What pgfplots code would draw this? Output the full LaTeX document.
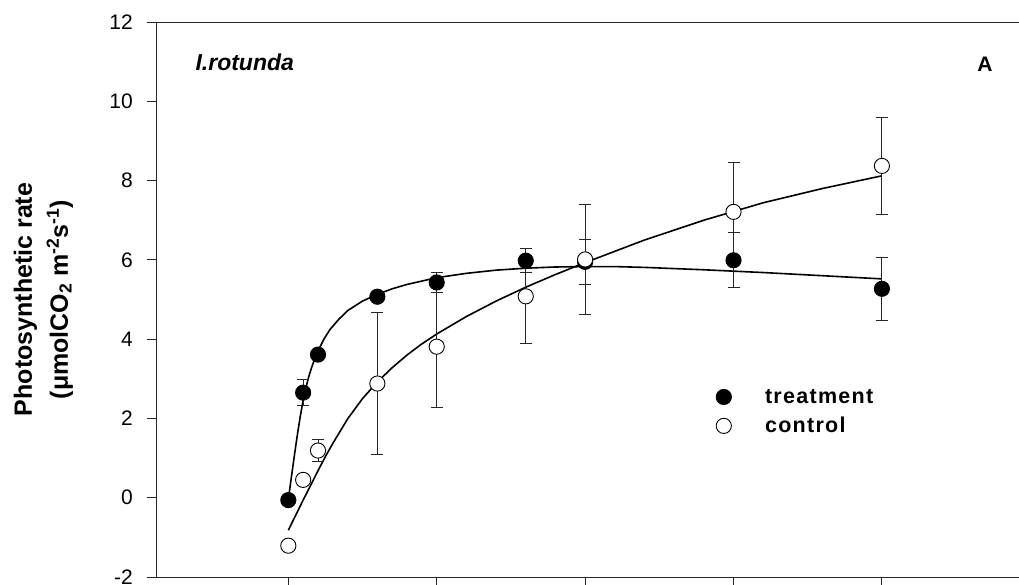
\documentclass[border=0pt]{standalone}
\usepackage{fontspec}
\setmainfont{Liberation Sans}
\newfontfamily\legfont[LetterSpace=6]{Liberation Sans}
\usepackage{pgfplots}
\pgfplotsset{compat=1.18}

\begin{document}
\begin{tikzpicture}
\begin{axis}[
  scale only axis,
  width=874.3pt, height=555pt,
  xmin=-445.8, xmax=2500, ymin=-2, ymax=12,
  axis x line=box, axis y line=left,
  axis line style={-, line width=0.9pt, black!85},
  xtick={0,500,1000,1500,2000}, xticklabels={},
  ytick={-2,0,2,4,6,8,10,12},
  yticklabels={-2,0,2,4,6,8,10,12},
  xtick pos=bottom, ytick pos=left,
  tick align=outside,
  major tick length=9pt,
  tick style={line width=0.9pt, black!85},
  yticklabel style={font=\fontsize{21}{25}\selectfont, anchor=east, inner sep=0pt, xshift=-14pt},
  clip=false,
  legend style={at={(axis cs:1441.7,2.737)}, anchor=north west, draw=none, fill=none,
    inner sep=0pt, outer sep=0pt, row sep=12.6pt, column sep=33.6pt,
    nodes={inner sep=0pt, font=\legfont\bfseries\fontsize{21.5}{25}\selectfont}},
  legend cell align=left,
  legend image code/.code={\draw[#1] plot coordinates {(0pt,0pt)};},
]
\coordinate (O) at (rel axis cs:0,0);

% fitted curves
\addplot[forget plot, black, line width=1.6pt] coordinates {
(0,-0.05) (10,0.5) (20,1.04) (30,1.56) (40,2.04) (50,2.46) (60,2.8) (70,3.08)
(80,3.32) (90,3.52) (100,3.7) (120,4.0) (140,4.24) (170,4.5) (200,4.72)
(250,4.96) (300,5.13) (350,5.27) (400,5.38) (500,5.55) (600,5.66) (700,5.74)
(800,5.79) (900,5.82) (1000,5.83) (1100,5.83) (1200,5.81) (1400,5.75)
(1600,5.68) (1800,5.6) (2000,5.52)};
\addplot[forget plot, black, line width=1.6pt] coordinates {
(0,-0.82) (25,-0.44) (50,-0.06) (75,0.31) (100,0.68) (125,1.04) (150,1.37)
(200,1.99) (250,2.5) (300,2.92) (350,3.28) (400,3.6) (450,3.88) (500,4.13)
(600,4.57) (700,4.96) (800,5.31) (900,5.63) (1000,5.93) (1200,6.5)
(1400,7.0) (1600,7.44) (1800,7.8) (2000,8.12)};

% treatment
\addplot[only marks, mark=*, mark size=7.6pt,
  mark options={fill=black, draw=black, line width=0.9pt},
  error bars/.cd, y dir=both, y explicit,
  error bar style={line width=0.9pt, black!85},
  error mark options={rotate=90, mark size=6pt, line width=0.9pt, black!85}]
coordinates {
(0,-0.06) +- (0,0)
(50,2.65) +- (0,0.33)
(100,3.61) +- (0,0.1)
(300,5.07) +- (0,0.1)
(500,5.43) +- (0,0.26)
(800,5.98) +- (0,0.30)
(1000,5.95) +- (0,0.57)
(1500,5.99) +- (0,0.69)
(2000,5.27) +- (0,0.79)};
\addlegendentry{treatment}

% control
\addplot[only marks, mark=*, mark size=7.6pt,
  mark options={fill=white, draw=black, line width=0.9pt},
  error bars/.cd, y dir=both, y explicit,
  error bar style={line width=0.9pt, black!85},
  error mark options={rotate=90, mark size=6pt, line width=0.9pt, black!85}]
coordinates {
(0,-1.21) +- (0,0)
(50,0.45) +- (0,0)
(100,1.19) +- (0,0.27)
(300,2.88) +- (0,1.79)
(500,3.81) +- (0,1.53)
(800,5.08) +- (0,1.2)
(1000,6.01) +- (0,1.38)
(1500,7.21) +- (0,1.25)
(2000,8.37) +- (0,1.23)};
\addlegendentry{control}

\node[anchor=base west, font=\fontsize{23}{27}\selectfont\bfseries\itshape] at (axis cs:-324.5,10.77) {I.rotunda};
\node[anchor=base, font=\fontsize{21}{25}\selectfont\bfseries] at (axis cs:2347.4,10.75) {A};
\end{axis}

\node[rotate=90, anchor=base, font=\fontsize{25}{30}\selectfont\bfseries] at ([xshift=-124pt, yshift=277.5pt]O) {Photosynthetic rate};
\node[rotate=90, anchor=base, font=\fontsize{25}{30}\selectfont\bfseries] at ([xshift=-88pt, yshift=277.5pt]O) {(μmolCO\textsubscript{2} m\textsuperscript{-2}s\textsuperscript{-1})};

\pgfresetboundingbox
\path[use as bounding box] ([xshift=-156pt,yshift=-7pt]O) rectangle ([xshift=863pt,yshift=577pt]O);
\end{tikzpicture}
\end{document}
